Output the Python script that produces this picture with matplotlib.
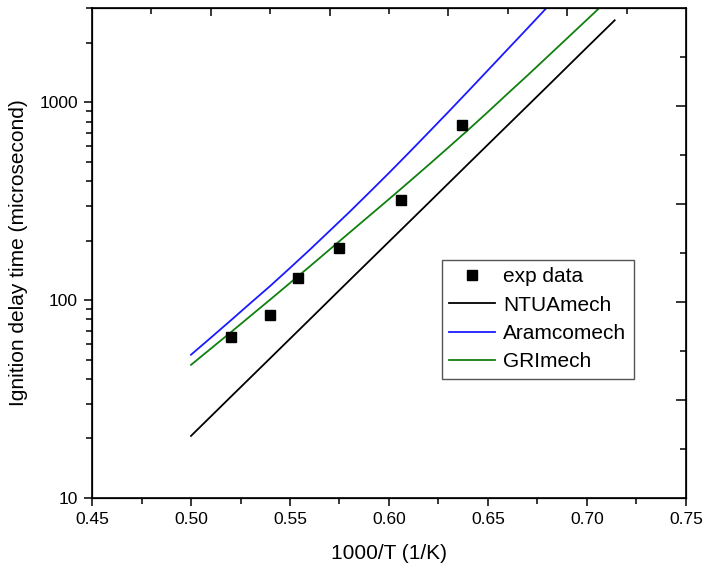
import numpy as np
import matplotlib
matplotlib.use("Agg")
import matplotlib.pyplot as plt
from matplotlib.ticker import FixedLocator, NullFormatter, FuncFormatter

plt.rcParams['font.family'] = ['Liberation Sans', 'DejaVu Sans']

# experimental points
exp_x = [0.520, 0.540, 0.554, 0.575, 0.606, 0.637]
exp_y = [65, 84, 130, 184, 320, 765]

# model curves
ntua_x = [0.50, 0.52, 0.54, 0.56, 0.58, 0.60, 0.62, 0.64, 0.66, 0.68, 0.70, 0.714]
ntua_y = [20.6, 32.4, 50.9, 80.0, 125.9, 197.7, 310.5, 488.6, 767.4, 1205, 1897, 2600]

aramco_x = [0.50, 0.51, 0.52, 0.53, 0.54, 0.55, 0.56, 0.57, 0.58, 0.59,
            0.60, 0.61, 0.62, 0.63, 0.64, 0.65, 0.66, 0.67, 0.68]
aramco_y = [53, 64.6, 78.9, 96.6, 118, 145.5, 180, 224, 279, 350,
            440, 556, 705, 895, 1140, 1455, 1858, 2371, 3034]

gri_x = [0.50, 0.51, 0.52, 0.53, 0.54, 0.55, 0.56, 0.57, 0.58, 0.59, 0.60,
         0.61, 0.62, 0.63, 0.64, 0.65, 0.66, 0.67, 0.68, 0.69, 0.70, 0.707]
gri_y = [47.1, 56.9, 68.7, 83.2, 100.7, 122.2, 148.2, 180.3, 219.3, 266.7, 324.3,
         395.4, 483, 591.6, 726.1, 895.4, 1109, 1370, 1700, 2110, 2620, 3050]

fig = plt.figure(figsize=(7.04, 5.75), dpi=100)
ax = fig.add_axes([0.1307, 0.1339, 0.8437, 0.8522])

ax.plot(exp_x, exp_y, 'ks', ms=7, ls='none', label='exp data', zorder=5)
ax.plot(ntua_x, ntua_y, color='black', lw=1.3, label='NTUAmech')
ax.plot(aramco_x, aramco_y, color='#1a1aff', lw=1.3, label='Aramcomech')
ax.plot(gri_x, gri_y, color='#108010', lw=1.3, label='GRImech')

ax.set_yscale('log')
ax.set_xlim(0.45, 0.75)
ax.set_ylim(10, 3000)

ax.set_xticks(np.arange(0.45, 0.751, 0.05))
ax.xaxis.set_minor_locator(FixedLocator(np.arange(0.475, 0.75, 0.05)))
ax.xaxis.set_major_formatter(FuncFormatter(lambda v, p: '%.2f' % v))
ax.yaxis.set_major_locator(FixedLocator([10, 100, 1000]))
ax.yaxis.set_major_formatter(FuncFormatter(lambda v, p: '%d' % v))

ax.tick_params(which='both', direction='out', top=False, right=False,
               labelsize=12.5, width=1.1, pad=4)
ax.tick_params(which='major', length=6)
ax.tick_params(which='minor', length=4)

for s in ax.spines.values():
    s.set_linewidth(1.2)

# top axis: 10 divisions, inward
axt = ax.twiny()
axt.set_xlim(0.45, 0.75)
top_t = np.linspace(0.45, 0.75, 11)[1:-1]
axt.xaxis.set_major_locator(FixedLocator(top_t[1::2]))
axt.xaxis.set_minor_locator(FixedLocator(top_t[0::2]))
axt.xaxis.set_major_formatter(NullFormatter())
axt.tick_params(which='both', direction='in', width=1.1)
axt.tick_params(which='major', length=6)
axt.tick_params(which='minor', length=4)

# right axis: 10 divisions in log space, inward
axr = ax.twinx()
axr.set_yscale('log')
axr.set_ylim(10, 3000)
right_t = 10 ** np.linspace(1, np.log10(3000), 11)[1:-1]
axr.yaxis.set_major_locator(FixedLocator(right_t[1::2]))
axr.yaxis.set_minor_locator(FixedLocator(right_t[0::2]))
axr.yaxis.set_major_formatter(NullFormatter())
axr.yaxis.set_minor_formatter(NullFormatter())
axr.tick_params(which='both', direction='in', width=1.1)
axr.tick_params(which='major', length=7)
axr.tick_params(which='minor', length=4)

ax.set_xlabel('1000/T (1/K)', fontsize=15, labelpad=12)
ax.set_ylabel('Ignition delay time (microsecond)', fontsize=15, labelpad=8)

leg = ax.legend(loc='upper left', bbox_to_anchor=(0.589, 0.486), borderaxespad=0,
                fontsize=15, fancybox=False, framealpha=1, edgecolor='#555555',
                handlelength=2.2, labelspacing=0.45, handletextpad=0.4, borderpad=0.35)
leg.get_frame().set_linewidth(1.0)

fig.savefig('out.png', dpi=100)
